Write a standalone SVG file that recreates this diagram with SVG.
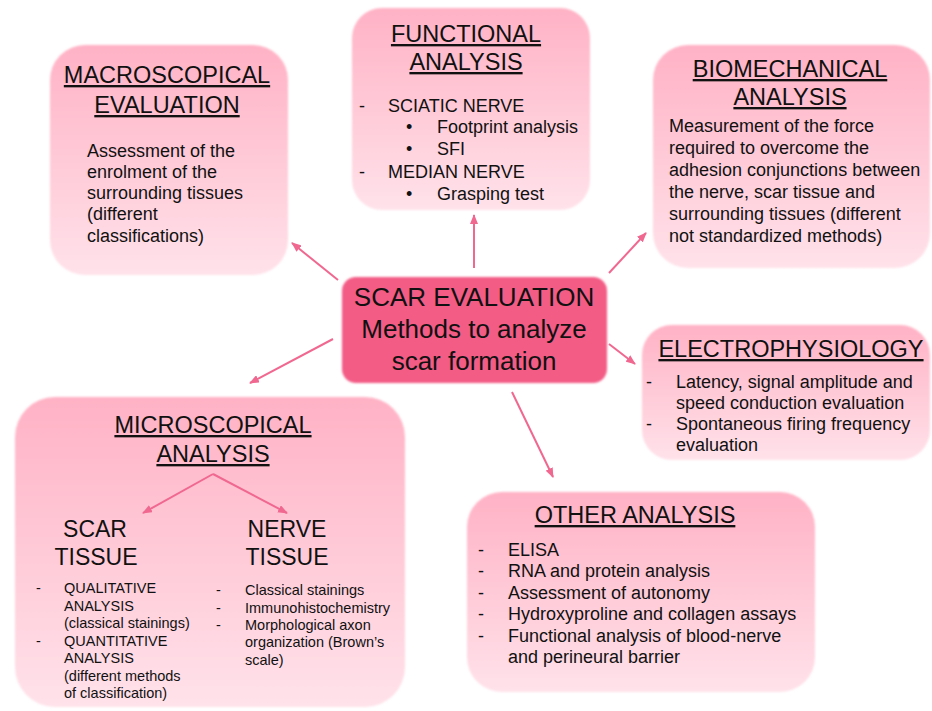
<svg xmlns="http://www.w3.org/2000/svg" width="932" height="711" viewBox="0 0 932 711">
<defs>
<linearGradient id="boxg" x1="0" y1="0" x2="0" y2="1">
<stop offset="0" stop-color="#FFB2C5"/>
<stop offset="1" stop-color="#FFE2EA"/>
</linearGradient>
<filter id="soft" x="-5%" y="-5%" width="110%" height="110%">
<feGaussianBlur stdDeviation="1.2"/>
</filter>
<marker id="ah" viewBox="0 0 10 8" refX="9" refY="4" markerWidth="5" markerHeight="4" orient="auto" markerUnits="strokeWidth">
<path d="M0,0 L10,4 L0,8 Z" fill="#F06890"/>
</marker>
<style>
.box{fill:url(#boxg);filter:url(#soft)}
.center{fill:#F35B85;filter:url(#soft)}
text{font-family:"Liberation Sans",Arial,sans-serif;fill:#111}
.title{font-size:23.5px;text-anchor:middle;text-decoration:underline}
.ctr{font-size:26px;text-anchor:middle}
.body{font-size:18px}
.small{font-size:14.5px}
.sub{font-size:23px;text-anchor:middle}
.conn line{stroke:#F06890;stroke-width:2;marker-end:url(#ah)}
</style>
</defs>
<rect width="932" height="711" fill="#fff"/>

<g id="macroscopical">
<rect class="box" x="50" y="45" width="238" height="230" rx="35"/>
<text class="title" x="167" y="83">MACROSCOPICAL</text>
<text class="title" x="167" y="113">EVALUATION</text>
<text class="body" x="87" y="157">Assessment of the</text>
<text class="body" x="87" y="178">enrolment of the</text>
<text class="body" x="87" y="199">surrounding tissues</text>
<text class="body" x="87" y="220">(different</text>
<text class="body" x="87" y="242">classifications)</text>
</g>

<g id="functional">
<rect class="box" x="352" y="8" width="238" height="202" rx="30"/>
<text class="title" x="466" y="42">FUNCTIONAL</text>
<text class="title" x="466" y="70">ANALYSIS</text>
<text class="body" x="359" y="112">-</text>
<text class="body" x="388" y="112">SCIATIC NERVE</text>
<text class="body" x="406" y="133">•</text>
<text class="body" x="437" y="133">Footprint analysis</text>
<text class="body" x="406" y="155">•</text>
<text class="body" x="437" y="155">SFI</text>
<text class="body" x="359" y="178">-</text>
<text class="body" x="388" y="178">MEDIAN NERVE</text>
<text class="body" x="406" y="200">•</text>
<text class="body" x="437" y="200">Grasping test</text>
</g>

<g id="biomechanical">
<rect class="box" x="653" y="45" width="277" height="223" rx="35"/>
<text class="title" x="790" y="77">BIOMECHANICAL</text>
<text class="title" x="790" y="105">ANALYSIS</text>
<text class="body" x="669" y="132">Measurement of the force</text>
<text class="body" x="669" y="154">required to overcome the</text>
<text class="body" x="669" y="176">adhesion conjunctions between</text>
<text class="body" x="669" y="198">the nerve, scar tissue and</text>
<text class="body" x="669" y="220">surrounding tissues (different</text>
<text class="body" x="669" y="242">not standardized methods)</text>
</g>

<g id="electrophysiology">
<rect class="box" x="642" y="325" width="288" height="135" rx="30"/>
<text class="title" x="791" y="357">ELECTROPHYSIOLOGY</text>
<text class="body" x="646" y="388">-</text>
<text class="body" x="676" y="388">Latency, signal amplitude and</text>
<text class="body" x="676" y="409">speed conduction evaluation</text>
<text class="body" x="646" y="430">-</text>
<text class="body" x="676" y="430">Spontaneous firing frequency</text>
<text class="body" x="676" y="451">evaluation</text>
</g>

<g id="other">
<rect class="box" x="467" y="492" width="348" height="200" rx="35"/>
<text class="title" x="635" y="523">OTHER ANALYSIS</text>
<text class="body" x="478" y="556">-</text>
<text class="body" x="508" y="556">ELISA</text>
<text class="body" x="478" y="577">-</text>
<text class="body" x="508" y="577">RNA and protein analysis</text>
<text class="body" x="478" y="599">-</text>
<text class="body" x="508" y="599">Assessment of autonomy</text>
<text class="body" x="478" y="620">-</text>
<text class="body" x="508" y="620">Hydroxyproline and collagen assays</text>
<text class="body" x="478" y="642">-</text>
<text class="body" x="508" y="642">Functional analysis of blood-nerve</text>
<text class="body" x="508" y="663">and perineural barrier</text>
</g>

<g id="microscopical">
<rect class="box" x="15" y="397" width="390" height="310" rx="40"/>
<text class="title" x="213" y="433">MICROSCOPICAL</text>
<text class="title" x="213" y="462">ANALYSIS</text>
<text class="sub" x="95" y="537">SCAR</text>
<text class="sub" x="96" y="565">TISSUE</text>
<text class="sub" x="287" y="537">NERVE</text>
<text class="sub" x="287" y="565">TISSUE</text>
<text class="small" x="36" y="593">-</text>
<text class="small" x="64" y="593">QUALITATIVE</text>
<text class="small" x="64" y="611">ANALYSIS</text>
<text class="small" x="64" y="628">(classical stainings)</text>
<text class="small" x="36" y="646">-</text>
<text class="small" x="64" y="646">QUANTITATIVE</text>
<text class="small" x="64" y="663">ANALYSIS</text>
<text class="small" x="64" y="681">(different methods</text>
<text class="small" x="64" y="698">of classification)</text>
<text class="small" x="216" y="595">-</text>
<text class="small" x="245" y="595">Classical stainings</text>
<text class="small" x="216" y="613">-</text>
<text class="small" x="245" y="613">Immunohistochemistry</text>
<text class="small" x="216" y="630">-</text>
<text class="small" x="245" y="630">Morphological axon</text>
<text class="small" x="245" y="647">organization (Brown’s</text>
<text class="small" x="245" y="665">scale)</text>
</g>

<g id="scar-evaluation">
<rect class="center" x="342" y="277" width="265" height="106" rx="14"/>
<text class="ctr" x="474" y="306">SCAR EVALUATION</text>
<text class="ctr" x="474" y="338">Methods to analyze</text>
<text class="ctr" x="474" y="370">scar formation</text>
</g>

<g id="connectors" class="conn">
<line x1="338" y1="280" x2="292" y2="243"/>
<line x1="333" y1="339" x2="250" y2="383"/>
<line x1="474" y1="268" x2="474" y2="215"/>
<line x1="609" y1="273" x2="646" y2="233"/>
<line x1="609" y1="344" x2="635" y2="364"/>
<line x1="512" y1="392" x2="553" y2="477"/>
<line x1="213" y1="474" x2="143" y2="513"/>
<line x1="213" y1="474" x2="287" y2="513"/>
</g>
</svg>
